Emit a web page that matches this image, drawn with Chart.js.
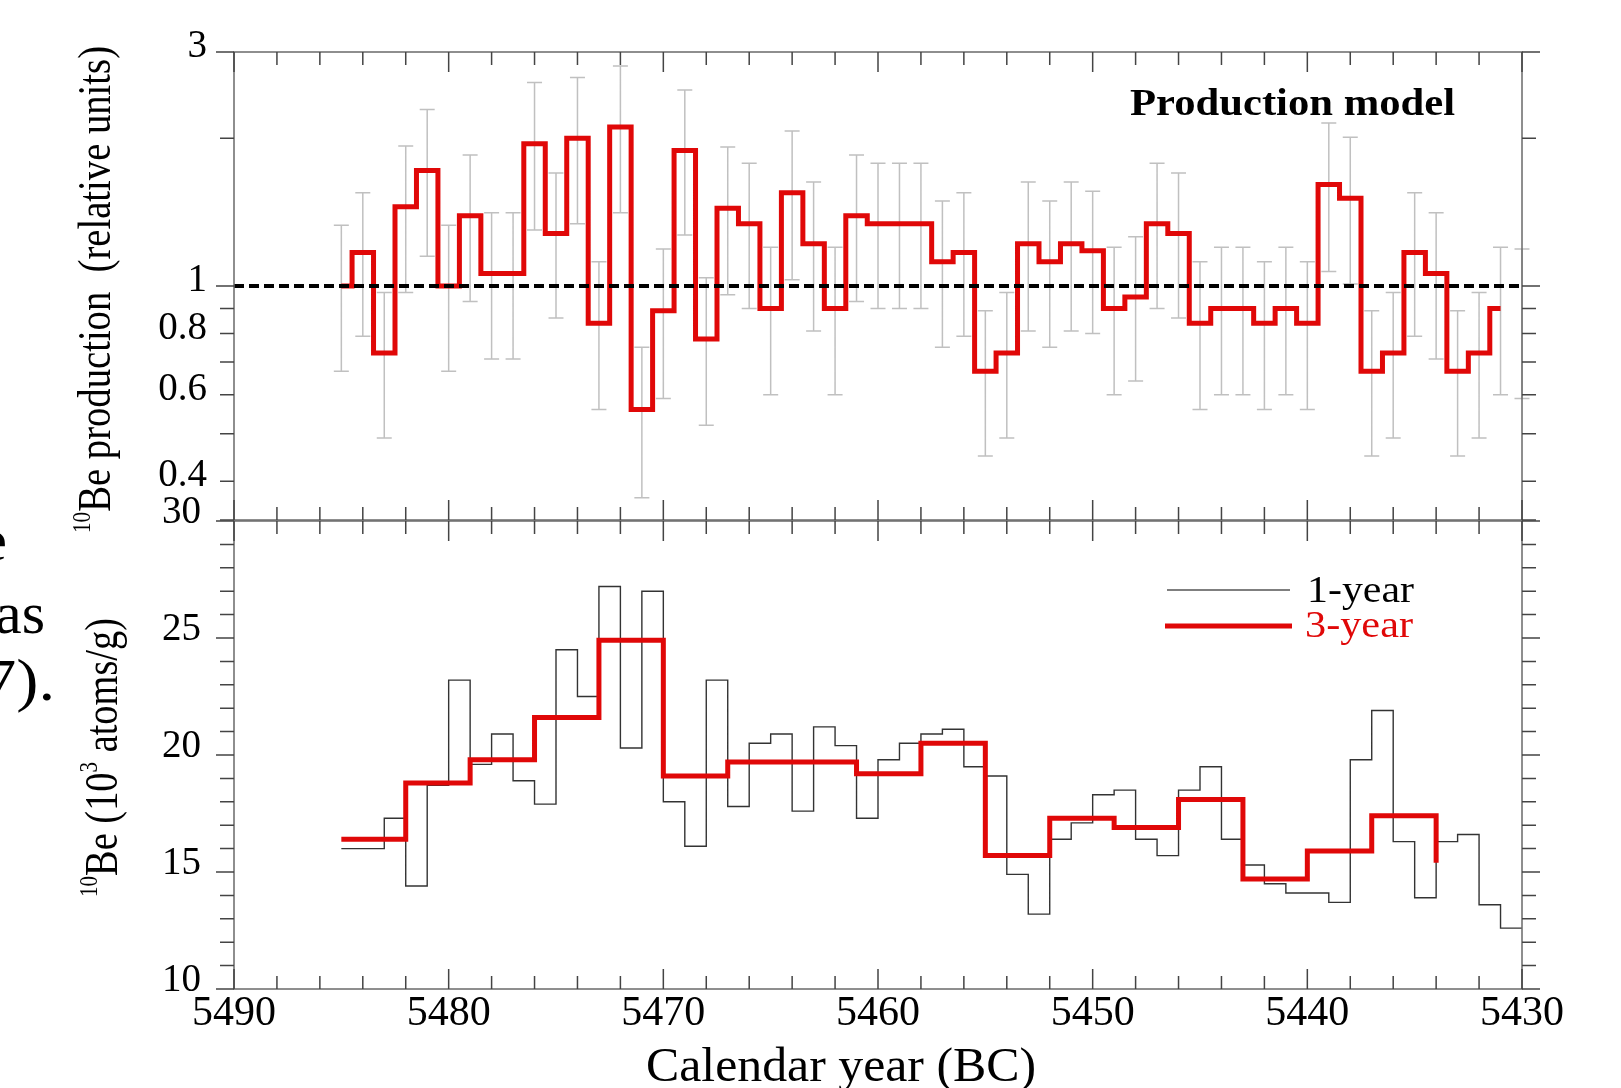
<!DOCTYPE html>
<html>
<head>
<meta charset="utf-8">
<title>10Be production model</title>
<script src="https://cdn.jsdelivr.net/npm/chart.js@4.4.1/dist/chart.umd.min.js"></script>
<style>
  html, body { margin: 0; padding: 0; background: #fff; }
  #wrap { position: relative; width: 1621px; height: 1088px; }
  canvas { position: absolute; left: 0; top: 0; }
</style>
</head>
<body>
<div id="wrap">
  <canvas id="productionChart" width="1621" height="1088"></canvas>
  <canvas id="concentrationChart" width="1621" height="1088"></canvas>
</div>
<script>
// x axis (calendar year BC, drawn reversed)
const yearMin = 5430;
const yearMax = 5490;
const yearTicks = [5490, 5480, 5470, 5460, 5450, 5440, 5430];

// top panel: 10Be production model (relative units), one value per year
const productionYears = [5485, 5484, 5483, 5482, 5481, 5480, 5479, 5478, 5477, 5476,
  5475, 5474, 5473, 5472, 5471, 5470, 5469, 5468, 5467, 5466,
  5465, 5464, 5463, 5462, 5461, 5460, 5459, 5458, 5457, 5456,
  5455, 5454, 5453, 5452, 5451, 5450, 5449, 5448, 5447, 5446,
  5445, 5444, 5443, 5442, 5441, 5440, 5439, 5438, 5437, 5436,
  5435, 5434, 5433, 5432, 5431, 5430];
const productionValues = [1.00, 1.17, 0.73, 1.45, 1.72, 1.00, 1.39, 1.06, 1.06, 1.95,
  1.28, 2.00, 0.84, 2.11, 0.56, 0.89, 1.89, 0.78, 1.44, 1.34,
  0.90, 1.55, 1.22, 0.90, 1.39, 1.34, 1.34, 1.34, 1.12, 1.17,
  0.67, 0.73, 1.22, 1.12, 1.22, 1.18, 0.90, 0.95, 1.34, 1.28,
  0.84, 0.90, 0.90, 0.84, 0.90, 0.84, 1.61, 1.51, 0.67, 0.73,
  1.17, 1.06, 0.67, 0.73, 0.90, 0.89];
const productionErrors = [0.33, 0.38, 0.24, 0.48, 0.57, 0.33, 0.46, 0.35, 0.35, 0.65,
  0.42, 0.66, 0.28, 0.70, 0.19, 0.30, 0.62, 0.26, 0.48, 0.44,
  0.30, 0.52, 0.41, 0.30, 0.46, 0.44, 0.44, 0.44, 0.37, 0.38,
  0.22, 0.24, 0.41, 0.37, 0.41, 0.38, 0.30, 0.31, 0.44, 0.42,
  0.28, 0.30, 0.30, 0.28, 0.30, 0.28, 0.54, 0.50, 0.22, 0.24,
  0.38, 0.35, 0.22, 0.24, 0.30, 0.30];
const lastModelYear = 5431;
const referenceLevel = 1;
const productionTickLabels = [3, 1, 0.8, 0.6, 0.4];
const productionTickMarks = [3, 2, 1, 0.9, 0.8, 0.7, 0.6, 0.5, 0.4, 1 / 3];

// bottom panel: 10Be concentration (10^3 atoms/g)
const annualYears = [5485, 5484, 5483, 5482, 5481, 5480, 5479, 5478, 5477, 5476,
  5475, 5474, 5473, 5472, 5471, 5470, 5469, 5468, 5467, 5466,
  5465, 5464, 5463, 5462, 5461, 5460, 5459, 5458, 5457, 5456,
  5455, 5454, 5453, 5452, 5451, 5450, 5449, 5448, 5447, 5446,
  5445, 5444, 5443, 5442, 5441, 5440, 5439, 5438, 5437, 5436,
  5435, 5434, 5433, 5432, 5431, 5430];
const annualValues = [16.0, 16.0, 17.3, 14.4, 18.7, 23.2, 19.6, 20.9, 18.9, 17.9,
  24.5, 22.5, 27.2, 20.3, 27.0, 18.0, 16.1, 23.2, 17.8, 20.5,
  20.9, 17.6, 21.2, 20.4, 17.3, 19.8, 20.5, 20.9, 21.1, 19.5,
  19.1, 14.9, 13.2, 16.4, 17.1, 18.3, 18.5, 16.4, 15.7, 18.5,
  19.5, 16.4, 15.3, 14.5, 14.1, 14.1, 13.7, 19.8, 21.9, 16.3,
  13.9, 16.3, 16.6, 13.6, 12.6];
const threeYearStarts = [5485, 5482, 5479, 5476, 5473, 5470, 5467, 5464, 5461,
  5458, 5455, 5452, 5449, 5446, 5443, 5440, 5437, 5434];
const threeYearValues = [16.4, 18.8, 19.8, 21.6, 24.9, 19.1, 19.7, 19.7, 19.2,
  20.5, 15.7, 17.3, 16.9, 18.1, 14.7, 15.9, 17.4, 15.4];
const concentrationTickLabels = [10, 15, 20, 25, 30];

const red = 'rgb(224, 8, 8)';
const serif = "'Liberation Serif', 'Times New Roman', serif";

// frame box, inward year ticks, outward value ticks
const frameTicks = {
  id: 'frameTicks',
  afterDraw(chart, args, opts) {
    const { ctx, chartArea: a } = chart;
    const x = chart.scales.x, y = chart.scales.y;
    ctx.save();
    ctx.strokeStyle = '#6a6a6a';
    ctx.lineWidth = 1.5;
    ctx.strokeRect(a.left, a.top, a.right - a.left, a.bottom - a.top);
    ctx.strokeStyle = '#444';
    ctx.beginPath();
    for (let yr = yearMin; yr <= yearMax; yr += 2) {
      const px = x.getPixelForValue(yr);
      const len = yr % 10 === 0 ? 20 : 13;
      ctx.moveTo(px, a.top); ctx.lineTo(px, a.top + len);
      ctx.moveTo(px, a.bottom); ctx.lineTo(px, a.bottom - len);
    }
    opts.marks.forEach(v => {
      const py = y.getPixelForValue(v);
      const len = opts.major.includes(v) ? 18 : 14;
      ctx.moveTo(a.left, py); ctx.lineTo(a.left - len, py);
      ctx.moveTo(a.right, py); ctx.lineTo(a.right + len, py);
    });
    ctx.stroke();
    ctx.restore();
  }
};

const errorBars = {
  id: 'errorBars',
  beforeDatasetsDraw(chart) {
    const { ctx } = chart;
    const x = chart.scales.x, y = chart.scales.y;
    ctx.save();
    ctx.strokeStyle = 'rgba(150, 150, 150, 0.6)';
    ctx.lineWidth = 1.5;
    ctx.beginPath();
    productionYears.forEach((yr, i) => {
      const px = x.getPixelForValue(yr);
      const hi = y.getPixelForValue(productionValues[i] + productionErrors[i]);
      const lo = y.getPixelForValue(productionValues[i] - productionErrors[i]);
      ctx.moveTo(px, hi); ctx.lineTo(px, lo);
      ctx.moveTo(px - 7.5, hi); ctx.lineTo(px + 7.5, hi);
      ctx.moveTo(px - 7.5, lo); ctx.lineTo(px + 7.5, lo);
    });
    ctx.stroke();
    ctx.restore();
  }
};

function fitText(ctx, text, font, x, y, width, align, color) {
  ctx.save();
  ctx.font = font;
  ctx.fillStyle = color || '#000';
  ctx.textAlign = align;
  ctx.textBaseline = 'alphabetic';
  const k = width / ctx.measureText(text).width;
  ctx.translate(x, y);
  ctx.scale(k, 1);
  ctx.fillText(text, 0, 0);
  ctx.restore();
}

function rotatedTitle(ctx, parts, x, yStart, length, size) {
  ctx.save();
  ctx.translate(x, yStart);
  ctx.rotate(-Math.PI / 2);
  ctx.fillStyle = '#000';
  ctx.textBaseline = 'alphabetic';
  const fonts = parts.map(p => (p.sup ? size * 0.55 : size) + 'px ' + serif);
  const widths = parts.map((p, i) => { ctx.font = fonts[i]; return ctx.measureText(p.t).width; });
  const total = widths.reduce((s, w) => s + w, 0);
  ctx.scale(length / total, 1);
  let cx = 0;
  parts.forEach((p, i) => {
    ctx.font = fonts[i];
    ctx.fillText(p.t, cx, p.sup ? -size * 0.42 : 0);
    cx += widths[i];
  });
  ctx.restore();
}

const productionTexts = {
  id: 'productionTexts',
  afterDraw(chart) {
    const { ctx } = chart;
    fitText(ctx, 'Production model', 'bold 38px ' + serif, 1130, 115, 325, 'left');
    rotatedTitle(ctx, [{ t: '10', sup: true }, { t: 'Be production  (relative units)' }], 110, 533, 487, 47);
    // fragments of the neighbouring page text
    fitText(ctx, 'e', '60px ' + serif, 7, 560, 27, 'right');
    fitText(ctx, 'as', '60px ' + serif, 45, 633, 50, 'right');
    fitText(ctx, '7).', '60px ' + serif, 55, 700, 72, 'right');
  }
};

const concentrationTexts = {
  id: 'concentrationTexts',
  afterDraw(chart) {
    const { ctx } = chart;
    rotatedTitle(ctx, [{ t: '10', sup: true }, { t: 'Be (10' }, { t: '3', sup: true }, { t: ' atoms/g)' }], 117, 897, 279, 47);
    fitText(ctx, 'Calendar year (BC)', '48px ' + serif, 841, 1081, 390, 'center');
    ctx.save();
    ctx.strokeStyle = '#555';
    ctx.lineWidth = 1.3;
    ctx.beginPath(); ctx.moveTo(1167, 590); ctx.lineTo(1290, 590); ctx.stroke();
    ctx.strokeStyle = red;
    ctx.lineWidth = 5;
    ctx.beginPath(); ctx.moveTo(1165, 626); ctx.lineTo(1292, 626); ctx.stroke();
    ctx.restore();
    fitText(ctx, '1-year', '37px ' + serif, 1307, 602, 107, 'left');
    fitText(ctx, '3-year', '37px ' + serif, 1305, 637, 108, 'left', red);
  }
};

new Chart(document.getElementById('productionChart'), {
  type: 'line',
  data: {
    datasets: [{
      label: 'Reference',
      data: [{ x: yearMax, y: referenceLevel }, { x: yearMin, y: referenceLevel }],
      borderColor: '#000',
      borderWidth: 4,
      borderDash: [10, 5],
      pointRadius: 0,
      order: 0
    }, {
      label: 'Production model',
      data: productionYears.filter(yr => yr >= lastModelYear).map((yr, i) => ({ x: yr, y: productionValues[i] })),
      borderColor: red,
      borderWidth: 5,
      borderJoinStyle: 'miter',
      stepped: 'middle',
      pointRadius: 0,
      order: 1
    }]
  },
  options: {
    responsive: false,
    animation: false,
    devicePixelRatio: 1,
    events: [],
    layout: { padding: { top: 52, bottom: 568, left: 0, right: 99 } },
    plugins: {
      legend: { display: false },
      tooltip: { enabled: false },
      frameTicks: { marks: productionTickMarks, major: [3, 1] }
    },
    scales: {
      x: { type: 'linear', min: yearMin, max: yearMax, reverse: true, display: false },
      y: {
        type: 'logarithmic',
        bounds: 'data',
        min: 1 / 3,
        max: 3,
        afterFit: s => { s.width = 234; },
        afterBuildTicks: s => { s.ticks = productionTickLabels.map(v => ({ value: v })); },
        grid: { display: false, drawTicks: false },
        border: { display: false },
        ticks: {
          font: { family: serif, size: 39 },
          color: '#000',
          padding: 27,
          labelOffset: -5,
          callback: v => String(v)
        }
      }
    }
  },
  plugins: [errorBars, frameTicks, productionTexts]
});

new Chart(document.getElementById('concentrationChart'), {
  type: 'line',
  data: {
    datasets: [{
      label: '3-year',
      data: threeYearStarts.map((yr, i) => ({ x: yr, y: threeYearValues[i] })),
      borderColor: red,
      borderWidth: 5,
      borderJoinStyle: 'miter',
      stepped: true,
      pointRadius: 0,
      order: 0
    }, {
      label: '1-year',
      data: annualYears.map((yr, i) => ({ x: yr, y: annualValues[Math.min(i, annualValues.length - 1)] })),
      borderColor: '#333',
      borderWidth: 1.4,
      stepped: true,
      pointRadius: 0,
      order: 1
    }]
  },
  options: {
    responsive: false,
    animation: false,
    devicePixelRatio: 1,
    events: [],
    layout: { padding: { top: 521, bottom: 0, left: 0, right: 99 } },
    plugins: {
      legend: { display: false },
      tooltip: { enabled: false },
      frameTicks: { marks: Array.from({ length: 21 }, (_, i) => 10 + i), major: concentrationTickLabels }
    },
    scales: {
      x: {
        type: 'linear',
        min: yearMin,
        max: yearMax,
        reverse: true,
        afterFit: s => { s.height = 99; },
        afterBuildTicks: s => { s.ticks = yearTicks.map(v => ({ value: v })); },
        grid: { display: false, drawTicks: false },
        border: { display: false },
        ticks: {
          font: { family: serif, size: 42 },
          color: '#000',
          padding: 0,
          maxRotation: 0,
          autoSkip: false,
          callback: v => String(v)
        }
      },
      y: {
        type: 'linear',
        min: 10,
        max: 30,
        afterFit: s => { s.width = 234; },
        afterBuildTicks: s => { s.ticks = concentrationTickLabels.map(v => ({ value: v })); },
        grid: { display: false, drawTicks: false },
        border: { display: false },
        ticks: {
          font: { family: serif, size: 39 },
          color: '#000',
          padding: 33,
          labelOffset: -8,
          callback: v => String(v)
        }
      }
    }
  },
  plugins: [frameTicks, concentrationTexts]
});
</script>
</body>
</html>
